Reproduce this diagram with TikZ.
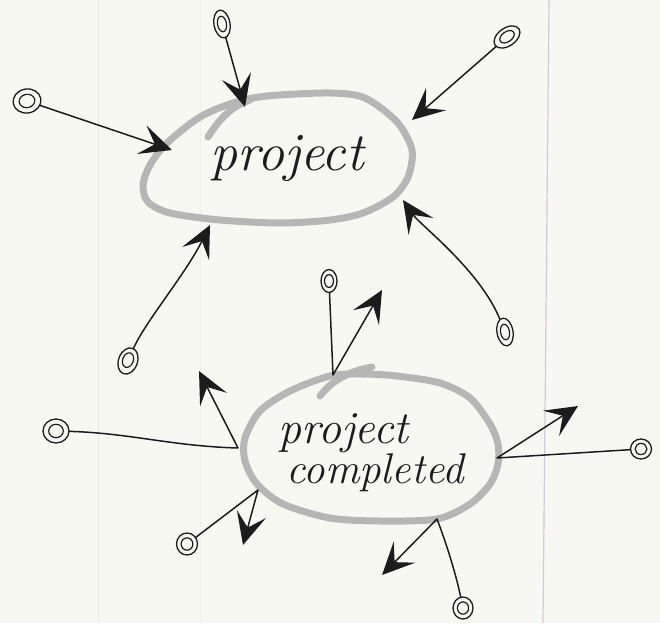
\documentclass[tikz,border=0pt]{standalone}
\usetikzlibrary{arrows.meta,shapes.geometric}
\definecolor{paper}{RGB}{248,248,243}
\definecolor{ringgray}{RGB}{182,182,180}
\definecolor{ink}{RGB}{28,28,28}
\definecolor{marginline}{RGB}{216,198,224}
\definecolor{faintline}{RGB}{233,233,229}
\tikzset{
  inkline/.style={draw=ink, line width=1.5pt, line cap=round, line join=round},
  arr/.style={-{Stealth[length=32pt,width=30pt,inset=14pt]}},
  ring/.style={draw=ringgray, line width=7pt, line cap=round, line join=round},
  curl/.style n args={3}{ellipse, draw=ink, line width=1.3pt, inner sep=0pt, outer sep=0pt,
     minimum width=#1, minimum height=#2, rotate=#3,
     path picture={\draw[ink, line width=1.2pt] (path picture bounding box.center) ellipse [x radius=0.28*#1, y radius=0.28*#2];}},
  script/.style={font=\fontsize{#1}{38}\selectfont\itshape, text=ink, inner sep=0pt},
}
\begin{document}
\begin{tikzpicture}[x=1pt,y=-1pt]
\path[use as bounding box] (0,0) rectangle (660,623);
\fill[paper] (0,0) rectangle (660,623);
\draw[faintline, line width=1pt] (98,0) -- (98,623);
\draw[faintline!60!paper, line width=1pt] (200,0) -- (200,623);
\draw[marginline, line width=1.2pt] (549,0) -- (543,623);

% rings
\draw[ring] plot[smooth cycle] coordinates {(267,96) (330,93) (365,98) (397,122) (412,150) (408,177) (393,197) (363,213) (330,220) (280,223) (220,220) (170,213) (148,202) (143,185) (150,165) (167,143) (200,117) (233,103)};
\draw[ring] (208,137) .. controls (220,118) and (232,106) .. (250,100);
\draw[ring] plot[smooth cycle] coordinates {(330,376) (363,374) (397,376) (440,383) (470,398) (490,424) (498,444) (498,464) (490,484) (470,504) (437,519) (380,521) (330,518) (283,504) (257,484) (245,461) (245,438) (260,411) (290,391)};
\draw[ring] (320,396) .. controls (332,380) and (350,371) .. (372,367);

% texts
\node[script=54] (p1) at (287,158) {project};
\node[script=43, align=left] (p2) at (371,453) {{\fontsize{46}{38}\selectfont project}\\\hspace*{8pt}completed};

% curls
\node[curl={28pt}{24pt}{10}] (c1) at (27,101) {};
\node[curl={16pt}{28pt}{10}] (c2) at (222,24) {};
\node[curl={29pt}{18pt}{35}] (c3) at (507,37) {};
\node[curl={16pt}{28pt}{10}] (c4) at (505,332) {};
\node[curl={19pt}{27pt}{-20}] (c5) at (128,361) {};
\node[curl={16pt}{23pt}{0}] (c6) at (329,281) {};
\node[curl={26pt}{24pt}{0}] (c7) at (56,431) {};
\node[curl={21pt}{22pt}{0}] (c8) at (187,544) {};
\node[curl={21pt}{20pt}{0}] (c9) at (641,449) {};
\node[curl={20pt}{22pt}{0}] (c10) at (463,608) {};

% arrow tips on "project"
\coordinate (t1) at (172,150);
\coordinate (t2) at (245,107);
\coordinate (t3) at (412,120);
\coordinate (t4) at (403,200);
\coordinate (t5) at (210,225);
% junctions on "project completed" and outgoing tips
\coordinate (j1) at (333,375); \coordinate (a1) at (382,290);
\coordinate (j2) at (238,448); \coordinate (a2) at (199,371);
\coordinate (j3) at (258,490); \coordinate (a3) at (243,545);
\coordinate (j4) at (497,458); \coordinate (a4) at (578,406);
\coordinate (j5) at (437,519); \coordinate (a5) at (382,575);

% connectors into "project"
\draw[inkline, arr] (c1) -- (t1);
\draw[inkline, arr] (c2) -- (t2);
\draw[inkline, arr] (c3) -- (t3);
\draw[inkline, arr] (c4) .. controls (480,270) and (420,225) .. (t4);
\draw[inkline, arr] (c5) .. controls (145,322) and (185,275) .. (t5);

% connectors of "project completed"
\draw[inkline, arr] (c6) -- (j1) -- (a1);
\draw[inkline, arr] (c7) .. controls (130,433) and (170,446) .. (j2) -- (a2);
\draw[inkline, arr] (c8) -- (j3) -- (a3);
\draw[inkline, arr] (c9) -- (j4) -- (a4);
\draw[inkline, arr] (c10) .. controls (455,570) and (445,540) .. (j5) -- (a5);
\end{tikzpicture}
\end{document}
